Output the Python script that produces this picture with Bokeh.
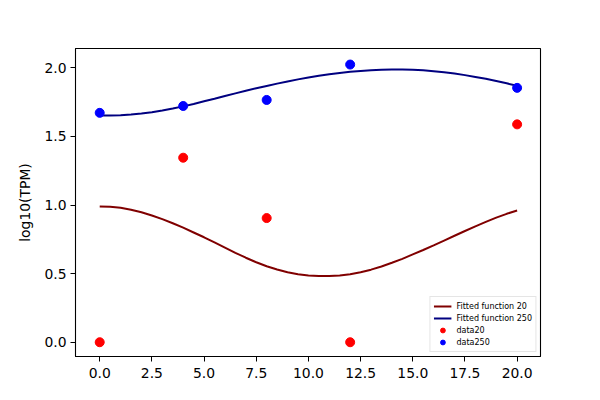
from bokeh.plotting import figure
from bokeh.models import Range1d, FixedTicker, NumeralTickFormatter
from bokeh.embed import file_html
from bokeh.resources import INLINE

# data points
time = [0, 4, 8, 12, 20]
data20 = [0.0, 1.345, 0.905, 0.0, 1.588]
data250 = [1.672, 1.722, 1.766, 2.024, 1.854]

# fitted curves
fit_x = [0, 0.5, 1, 1.5, 2, 2.5, 3, 3.5, 4, 4.5, 5, 5.5, 6, 6.5, 7, 7.5, 8, 8.5, 9, 9.5,
         10, 10.5, 11, 11.5, 12, 12.5, 13, 13.5, 14, 14.5, 15, 15.5, 16, 16.5, 17, 17.5,
         18, 18.5, 19, 19.5, 20]
fit20 = [0.990, 0.988, 0.981, 0.966, 0.947, 0.924, 0.897, 0.867, 0.835, 0.800, 0.765,
         0.728, 0.690, 0.652, 0.616, 0.583, 0.554, 0.530, 0.510, 0.496, 0.487, 0.482,
         0.482, 0.487, 0.496, 0.510, 0.529, 0.552, 0.579, 0.608, 0.640, 0.672, 0.706,
         0.741, 0.776, 0.811, 0.845, 0.877, 0.908, 0.936, 0.960]
fit250 = [1.652, 1.652, 1.655, 1.660, 1.667, 1.677, 1.689, 1.703, 1.719, 1.737, 1.756,
          1.775, 1.795, 1.814, 1.833, 1.851, 1.868, 1.885, 1.901, 1.916, 1.930, 1.942,
          1.953, 1.963, 1.971, 1.977, 1.982, 1.986, 1.988, 1.988, 1.986, 1.982, 1.976,
          1.968, 1.958, 1.947, 1.934, 1.920, 1.904, 1.887, 1.869]

x_ticks = [0, 2.5, 5, 7.5, 10, 12.5, 15, 17.5, 20]
y_ticks = [0, 0.5, 1.0, 1.5, 2.0]

p = figure(width=584, height=384, output_backend="svg", toolbar_location=None,
           x_range=Range1d(-1.16, 21.12), y_range=Range1d(-0.104, 2.141))
p.min_border_left = 75
p.min_border_right = 44
p.min_border_top = 48
p.min_border_bottom = 28
p.background_fill_color = "white"
p.border_fill_color = "white"
p.outline_line_color = "black"
p.outline_line_width = 1.1
p.xgrid.visible = False
p.ygrid.visible = False

p.line(fit_x, fit20, line_color="#800000", line_width=2, legend_label="Fitted function 20")
p.line(fit_x, fit250, line_color="#000080", line_width=2, legend_label="Fitted function 250")
p.scatter(time, data20, size=9, fill_color="red", line_color="red", legend_label="data20")
p.scatter(time, data250, size=9, fill_color="blue", line_color="blue", legend_label="data250")

for ax in (p.xaxis[0], p.yaxis[0]):
    ax.major_tick_out = 5
    ax.major_tick_in = 0
    ax.minor_tick_out = 0
    ax.minor_tick_in = 0
    ax.axis_line_color = "black"
    ax.major_tick_line_color = "black"
    ax.major_label_text_color = "black"
    ax.major_label_text_font = "DejaVu Sans"
    ax.major_label_text_font_size = "13.9px"
    ax.axis_label_text_font = "DejaVu Sans"
    ax.axis_label_text_font_size = "13.9px"
    ax.axis_label_text_font_style = "normal"
    ax.axis_label_text_color = "black"
    ax.formatter = NumeralTickFormatter(format="0.0")

p.xaxis.ticker = FixedTicker(ticks=x_ticks)
p.yaxis.ticker = FixedTicker(ticks=y_ticks)
p.xaxis.major_label_standoff = 6
p.yaxis.major_label_standoff = 4
p.yaxis.axis_label = "log10(TPM)"
p.yaxis.axis_label_standoff = 8

lg = p.legend[0]
lg.location = "bottom_right"
lg.margin = 4
lg.padding = 3
lg.spacing = 0
lg.label_height = 12
lg.glyph_height = 12
lg.glyph_width = 18
lg.label_standoff = 5
lg.label_text_font = "DejaVu Sans"
lg.label_text_font_size = "8px"
lg.label_text_color = "black"
lg.border_line_color = "#cccccc"
lg.border_line_width = 1
lg.background_fill_alpha = 0.8

open("out.html", "w").write(file_html(p, INLINE))
